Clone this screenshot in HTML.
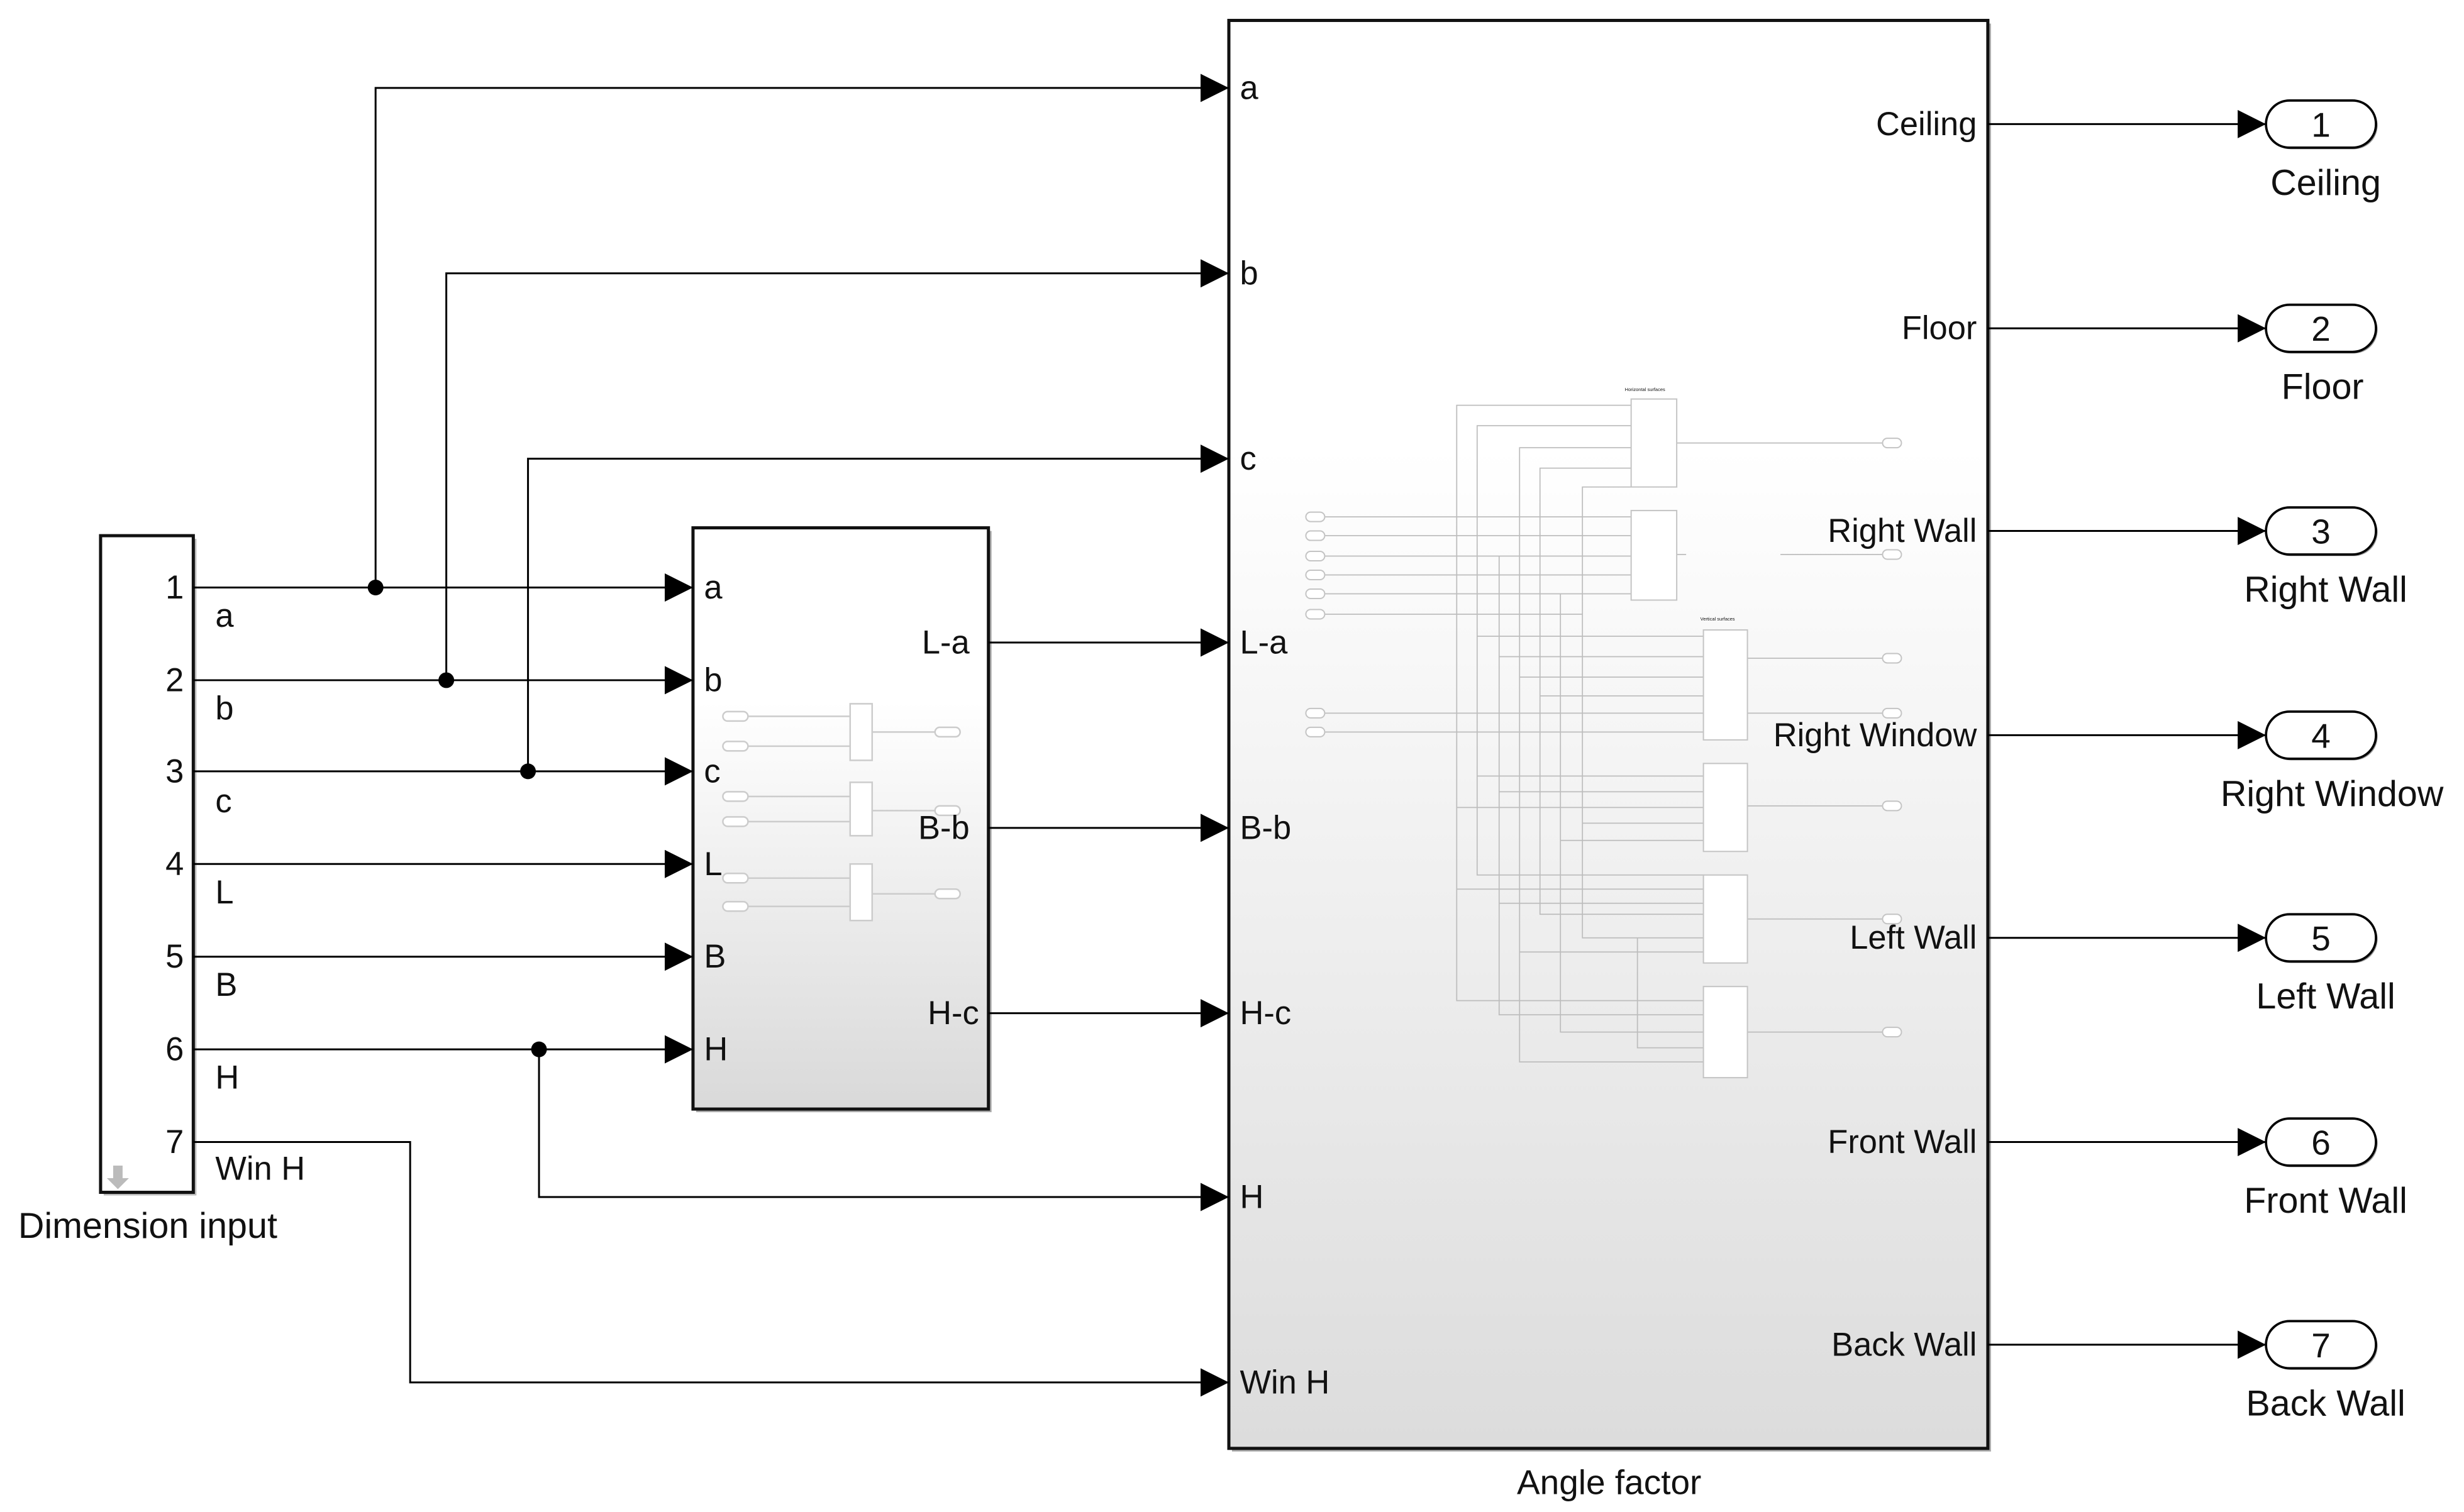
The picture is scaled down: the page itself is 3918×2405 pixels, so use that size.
<!DOCTYPE html>
<html><head><meta charset="utf-8"><style>
html,body{margin:0;padding:0;background:#fff;}
svg{display:block;}
text{font-family:"Liberation Sans",Arial,sans-serif;fill:#111;}
</style></head><body>
<svg width="3918" height="2405" viewBox="0 0 1568 962.5" xmlns="http://www.w3.org/2000/svg">
<defs>
<linearGradient id="g1" x1="0" y1="0" x2="0" y2="1">
<stop offset="0" stop-color="#ffffff"/><stop offset="0.3" stop-color="#ffffff"/><stop offset="1" stop-color="#d9d9d9"/>
</linearGradient>
<linearGradient id="g2" x1="0" y1="0" x2="0" y2="1">
<stop offset="0" stop-color="#ffffff"/><stop offset="0.3" stop-color="#ffffff"/><stop offset="1" stop-color="#dcdcdc"/>
</linearGradient>
<marker id="ar" markerWidth="18" markerHeight="18" refX="18" refY="9" orient="auto" markerUnits="userSpaceOnUse">
<path d="M0,0 L18,9 L0,18 Z" fill="#000"/>
</marker>
</defs>

<!-- Dimension input block -->
<rect x="66" y="343" width="59" height="418" fill="#bbb"/>
<rect x="64" y="341" width="59" height="418" fill="#fff" stroke="#111" stroke-width="2"/>
<path d="M72,742 l0,8 l-4,0 l7,7 l7,-7 l-4,0 l0,-8z" fill="#bbb"/>
<g font-size="21" text-anchor="end">
<text x="117" y="381">1</text><text x="117" y="440">2</text><text x="117" y="498">3</text>
<text x="117" y="557">4</text><text x="117" y="616">5</text><text x="117" y="675">6</text><text x="117" y="734">7</text>
</g>
<g font-size="21">
<text x="137" y="399">a</text><text x="137" y="458">b</text><text x="137" y="517">c</text>
<text x="137" y="575">L</text><text x="137" y="634">B</text><text x="137" y="693">H</text><text x="137" y="751">Win H</text>
</g>
<text x="94" y="788" font-size="23" text-anchor="middle">Dimension input</text>

<!-- Subsystem 1 -->
<rect x="443" y="338" width="188" height="370" fill="#aaa"/>
<rect x="441" y="336" width="188" height="370" fill="url(#g1)" stroke="#111" stroke-width="2"/>
<g stroke="#ccc" stroke-width="1" fill="#fff">
<line x1="468" y1="456" x2="541" y2="456"/><line x1="468" y1="475" x2="541" y2="475"/><line x1="555" y1="466" x2="597" y2="466"/>
<line x1="468" y1="507" x2="541" y2="507"/><line x1="468" y1="523" x2="541" y2="523"/><line x1="555" y1="516" x2="597" y2="516"/>
<line x1="468" y1="559" x2="541" y2="559"/><line x1="468" y1="577" x2="541" y2="577"/><line x1="555" y1="569" x2="597" y2="569"/>
<rect x="541" y="448" width="14" height="36"/><rect x="541" y="498" width="14" height="34"/><rect x="541" y="550" width="14" height="36"/>
<rect x="460" y="453" width="16" height="6" rx="3"/><rect x="460" y="472" width="16" height="6" rx="3"/><rect x="595" y="463" width="16" height="6" rx="3"/>
<rect x="460" y="504" width="16" height="6" rx="3"/><rect x="460" y="520" width="16" height="6" rx="3"/><rect x="595" y="513" width="16" height="6" rx="3"/>
<rect x="460" y="556" width="16" height="6" rx="3"/><rect x="460" y="574" width="16" height="6" rx="3"/><rect x="595" y="566" width="16" height="6" rx="3"/>
</g>
<g font-size="21">
<text x="448" y="381">a</text><text x="448" y="440">b</text><text x="448" y="498">c</text>
<text x="448" y="557">L</text><text x="448" y="616">B</text><text x="448" y="675">H</text>
</g>
<g font-size="21" text-anchor="end">
<text x="617" y="416">L-a</text><text x="617" y="534">B-b</text><text x="623" y="652">H-c</text>
</g>

<!-- Angle factor block -->
<rect x="784" y="15" width="483" height="909" fill="#aaa"/>
<rect x="782" y="13" width="483" height="909" fill="url(#g2)" stroke="#111" stroke-width="2"/>
<g stroke="#bdbdbd" stroke-width="0.7" fill="none">
<path d="M1038,258 H927 V637 H1084"/>
<path d="M1038,271 H940 V557 H1084"/>
<path d="M1038,285 H967 V676 H1084"/>
<path d="M1038,298 H980 V582 H1084"/>
<path d="M1038,310 H1007 V597 H1084"/>
<path d="M843,329 H1038 M843,341 H1038 M843,354 H1038 M843,366 H1038 M843,378 H1038 M843,391 H1007"/>
<path d="M954,354 V646 H1084"/><path d="M993,378 V657 H1084"/>
<path d="M940,405 H1084 M954,418 H1084 M967,431 H1084 M980,443 H1084"/>
<path d="M843,454 H1084 M843,466 H1084"/>
<path d="M940,494 H1084 M954,504 H1084 M927,514 H1084 M1007,524 H1084 M993,535 H1084"/>
<path d="M927,566 H1084 M954,575 H1084 M1042,597 V667 H1084 M967,606 H1084"/>
<path d="M1067,282 H1198 M1067,353 H1073 M1133,353 H1198 M1112,419 H1198 M1112,454 H1198 M1112,513 H1198 M1112,585 H1198 M1112,657 H1198"/>
</g>
<g stroke="#c4c4c4" stroke-width="0.8" fill="#fff">
<rect x="1038" y="254" width="29" height="56"/><rect x="1038" y="325" width="29" height="57"/>
<rect x="1084" y="401" width="28" height="70"/><rect x="1084" y="486" width="28" height="56"/>
<rect x="1084" y="557" width="28" height="56"/><rect x="1084" y="628" width="28" height="58"/>
<rect x="831" y="326" width="12" height="6" rx="3"/><rect x="831" y="338" width="12" height="6" rx="3"/>
<rect x="831" y="351" width="12" height="6" rx="3"/><rect x="831" y="363" width="12" height="6" rx="3"/>
<rect x="831" y="375" width="12" height="6" rx="3"/><rect x="831" y="388" width="12" height="6" rx="3"/>
<rect x="831" y="451" width="12" height="6" rx="3"/><rect x="831" y="463" width="12" height="6" rx="3"/>
<rect x="1198" y="279" width="12" height="6" rx="3"/><rect x="1198" y="350" width="12" height="6" rx="3"/>
<rect x="1198" y="416" width="12" height="6" rx="3"/><rect x="1198" y="451" width="12" height="6" rx="3"/>
<rect x="1198" y="510" width="12" height="6" rx="3"/><rect x="1198" y="582" width="12" height="6" rx="3"/>
<rect x="1198" y="654" width="12" height="6" rx="3"/>
</g>
<g fill="#999" font-size="3"><text x="1034" y="249">Horizontal surfaces</text><text x="1082" y="395">Vertical surfaces</text></g>
<g font-size="21">
<text x="789" y="63">a</text><text x="789" y="181">b</text><text x="789" y="299">c</text>
<text x="789" y="416">L-a</text><text x="789" y="534">B-b</text><text x="789" y="652">H-c</text>
<text x="789" y="769">H</text><text x="789" y="887">Win H</text>
</g>
<g font-size="21" text-anchor="end">
<text x="1258" y="86">Ceiling</text><text x="1258" y="216">Floor</text><text x="1258" y="345">Right Wall</text>
<text x="1258" y="475">Right Window</text><text x="1258" y="604">Left Wall</text><text x="1258" y="734">Front Wall</text>
<text x="1258" y="863">Back Wall</text>
</g>
<text x="1024" y="951" font-size="22" text-anchor="middle">Angle factor</text>

<!-- Connectors -->
<g stroke="#000" stroke-width="1.2" fill="none" marker-end="url(#ar)">
<path d="M123,374 H441"/><path d="M123,433 H441"/><path d="M123,491 H441"/>
<path d="M123,550 H441"/><path d="M123,609 H441"/><path d="M123,668 H441"/>
<path d="M239,374 V56 H782"/><path d="M284,433 V174 H782"/><path d="M336,491 V292 H782"/>
<path d="M629,409 H782"/><path d="M629,527 H782"/><path d="M629,645 H782"/>
<path d="M343,668 V762 H782"/><path d="M123,727 H261 V880 H782"/>
<path d="M1265,79 H1442"/><path d="M1265,209 H1442"/><path d="M1265,338 H1442"/>
<path d="M1265,468 H1442"/><path d="M1265,597 H1442"/><path d="M1265,727 H1442"/><path d="M1265,856 H1442"/>
</g>
<g fill="#000"><circle cx="239" cy="374" r="5"/><circle cx="284" cy="433" r="5"/><circle cx="336" cy="491" r="5"/><circle cx="343" cy="668" r="5"/></g>

<!-- Outports -->
<g stroke="#000" stroke-width="1.5" fill="#fff">
<rect x="1443" y="65" width="70" height="30" rx="15" fill="#999" stroke="none"/><rect x="1442" y="64" width="70" height="30" rx="15"/>
<rect x="1443" y="195" width="70" height="30" rx="15" fill="#999" stroke="none"/><rect x="1442" y="194" width="70" height="30" rx="15"/>
<rect x="1443" y="324" width="70" height="30" rx="15" fill="#999" stroke="none"/><rect x="1442" y="323" width="70" height="30" rx="15"/>
<rect x="1443" y="454" width="70" height="30" rx="15" fill="#999" stroke="none"/><rect x="1442" y="453" width="70" height="30" rx="15"/>
<rect x="1443" y="583" width="70" height="30" rx="15" fill="#999" stroke="none"/><rect x="1442" y="582" width="70" height="30" rx="15"/>
<rect x="1443" y="713" width="70" height="30" rx="15" fill="#999" stroke="none"/><rect x="1442" y="712" width="70" height="30" rx="15"/>
<rect x="1443" y="842" width="70" height="30" rx="15" fill="#999" stroke="none"/><rect x="1442" y="841" width="70" height="30" rx="15"/>
</g>
<g font-size="22" text-anchor="middle">
<text x="1477" y="87">1</text><text x="1477" y="217">2</text><text x="1477" y="346">3</text><text x="1477" y="476">4</text>
<text x="1477" y="605">5</text><text x="1477" y="735">6</text><text x="1477" y="864">7</text>
</g>
<g font-size="23" text-anchor="middle">
<text x="1480" y="124">Ceiling</text><text x="1478" y="254">Floor</text><text x="1480" y="383">Right Wall</text>
<text x="1484" y="513">Right Window</text><text x="1480" y="642">Left Wall</text><text x="1480" y="772">Front Wall</text>
<text x="1480" y="901">Back Wall</text>
</g>
</svg>
</body></html>
